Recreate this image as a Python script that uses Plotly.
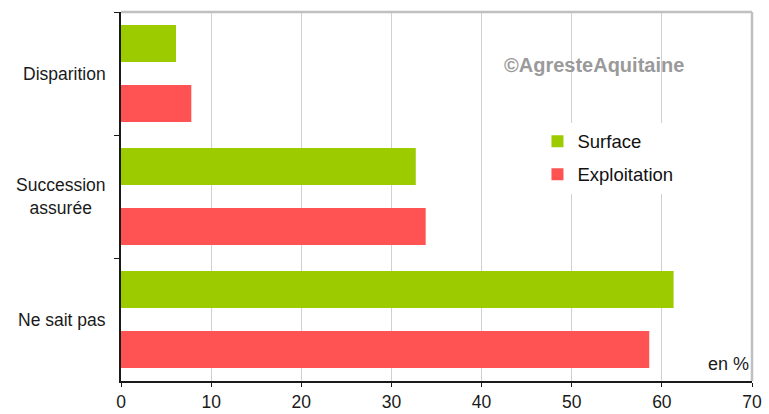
import plotly.graph_objects as go

categories = ["Disparition", "Succession<br>assurée", "Ne sait pas"]
surface = [6.1, 32.7, 61.3]
exploitation = [7.8, 33.8, 58.6]
x_ticks = [0, 10, 20, 30, 40, 50, 60, 70]

GREEN = "#9ccc00"
RED = "#ff5252"
FONT = "Liberation Sans, Arial, sans-serif"

fig = go.Figure()
fig.add_trace(go.Bar(y=categories, x=surface, name="Surface", orientation="h",
                     legendgroup="surface",
                     marker=dict(color=GREEN, line=dict(width=0))))
fig.add_trace(go.Bar(y=categories, x=exploitation, name="Exploitation", orientation="h",
                     legendgroup="exploitation",
                     marker=dict(color=RED, line=dict(width=0))))

fig.update_layout(
    width=769, height=414,
    margin=dict(l=121, r=17, t=12, b=33),
    paper_bgcolor="white", plot_bgcolor="white",
    barmode="group", bargap=0.024, bargroupgap=0.383,
    font=dict(family=FONT, size=18, color="#1a1a1a"),
    showlegend=True,
    legend=dict(x=0.66, y=0.70, xanchor="left", yanchor="top",
                bgcolor="white", font=dict(size=18.5, color="#111"),
                itemwidth=30, tracegroupgap=6, traceorder="grouped"),
    xaxis=dict(range=[0, 70], tickvals=x_ticks, showgrid=True,
               gridcolor="#d0d0d0", gridwidth=1,
               showline=True, linecolor="#1a1a1a", linewidth=1.5,
               ticks="outside", ticklen=4, tickcolor="#1a1a1a",
               ticklabelstandoff=0, automargin=False,
               tickfont=dict(size=17.5, color="#1a1a1a"), zeroline=False,
               fixedrange=True),
    yaxis=dict(autorange="reversed", showticklabels=False,
               showline=True, linecolor="#1a1a1a", linewidth=1.5,
               ticks="outside", ticklen=5, tickcolor="#1a1a1a",
               tickson="boundaries", showgrid=False, automargin=False,
               fixedrange=True),
)

# top and right frame in light grey
fig.add_shape(type="line", xref="paper", yref="paper", x0=0, x1=1, y0=1, y1=1,
              line=dict(color="#c0c0c0", width=2.5))
fig.add_shape(type="line", xref="paper", yref="paper", x0=1, x1=1, y0=0, y1=1,
              line=dict(color="#c0c0c0", width=2.5))

# category labels, centred line by line
for cat in categories:
    fig.add_annotation(x=0, xref="paper", y=cat, yref="y", text=cat,
                       showarrow=False, xanchor="right", align="center",
                       xshift=-13, font=dict(size=17.5, color="#1a1a1a"))

fig.add_annotation(x=0.895, xref="paper", y=0.857, yref="paper",
                   text="<b>©AgresteAquitaine</b>", showarrow=False,
                   xanchor="right", yanchor="middle",
                   font=dict(size=20, color="#9a9a9a"))
fig.add_annotation(x=1, xref="paper", y=0.0, yref="paper", text="en %",
                   showarrow=False, xanchor="right", yanchor="bottom",
                   yshift=5, xshift=-1, font=dict(size=18, color="#1a1a1a"))

fig.write_html("out.html")
